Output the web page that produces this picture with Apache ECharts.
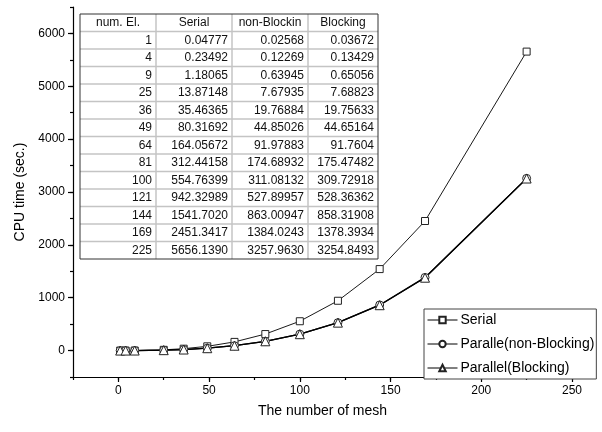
<!DOCTYPE html>
<html><head><meta charset="utf-8">
<script src="https://cdn.jsdelivr.net/npm/echarts@6/dist/echarts.min.js"></script>
<style>html,body{margin:0;padding:0;background:#fff}#c{width:602px;height:432px}</style>
</head><body><div id="c"></div>
<script>
// ---- data ----
const numEl = [1, 4, 9, 25, 36, 49, 64, 81, 100, 121, 144, 169, 225];
const serialText = ["0.04777","0.23492","1.18065","13.87148","35.46365","80.31692","164.05672","312.44158","554.76399","942.32989","1541.7020","2451.3417","5656.1390"];
const nonBlockingText = ["0.02568","0.12269","0.63945","7.67935","19.76884","44.85026","91.97883","174.68932","311.08132","527.89957","863.00947","1384.0243","3257.9630"];
const blockingText = ["0.03672","0.13429","0.65056","7.68823","19.75633","44.65164","91.7604","175.47482","309.72918","528.36362","858.31908","1378.3934","3254.8493"];
const tableHeaders = ["num. El.", "Serial", "non-Blockin", "Blocking"];
const seriesNames = ["Serial", "Paralle(non-Blocking)", "Parallel(Blocking)"];
const xTickValues = [0, 50, 100, 150, 200, 250];
const yTickValues = [0, 1000, 2000, 3000, 4000, 5000, 6000];

const FONT = '"Liberation Sans", Arial, sans-serif';
const serial = serialText.map(parseFloat);
const nonBlocking = nonBlockingText.map(parseFloat);
const blocking = blockingText.map(parseFloat);
const pairs = arr => numEl.map((x, i) => [x, arr[i]]);

// ---- table (graphic) ----
const T = {left: 80, top: 14, rowH: 17.5};
const colW = [76, 76, 76, 70];
const colX = [T.left];
colW.forEach((w, i) => colX.push(colX[i] + w));
const rows = [tableHeaders].concat(numEl.map((n, i) => [String(n), serialText[i], nonBlockingText[i], blockingText[i]]));
const nRows = rows.length, nCols = tableHeaders.length;
const tW = colX[nCols] - T.left, tH = T.rowH * nRows;
const g = [];
g.push({type: 'rect', shape: {x: T.left, y: T.top, width: tW, height: tH}, style: {fill: '#fff', stroke: 'none'}, z: 10});
for (let r = 1; r < nRows; r++) {
  const y = T.top + r * T.rowH;
  g.push({type: 'line', shape: {x1: T.left, y1: y, x2: T.left + tW, y2: y}, style: {stroke: '#c4c4c4', lineWidth: 1.5}, z: 11});
}
for (let c = 1; c < nCols; c++) {
  const x = colX[c];
  g.push({type: 'line', shape: {x1: x, y1: T.top, x2: x, y2: T.top + tH}, style: {stroke: '#c4c4c4', lineWidth: 1.5}, z: 11});
}
g.push({type: 'rect', shape: {x: T.left, y: T.top, width: tW, height: tH}, style: {fill: 'none', stroke: '#333', lineWidth: 1}, z: 12});
rows.forEach((row, r) => {
  row.forEach((txt, c) => {
    const header = r === 0;
    g.push({type: 'text', z: 13, style: {
      text: txt, font: '12px ' + FONT, fill: '#111',
      x: header ? (colX[c] + colX[c + 1]) / 2 : colX[c + 1] - 4,
      y: T.top + r * T.rowH + T.rowH / 2,
      align: header ? 'center' : 'right', verticalAlign: 'middle'
    }});
  });
});

const axisLineStyle = {color: '#000', width: 1.2};
const chart = echarts.init(document.getElementById('c'), null, {renderer: 'canvas'});
const mk = (name, sym, size, lw) => ({
  name, type: 'line', xAxisIndex: 0, yAxisIndex: 0,
  symbol: sym, symbolSize: size, showAllSymbol: true,
  lineStyle: {color: '#000', width: lw},
  itemStyle: {color: '#fff', borderColor: '#222', borderWidth: 1},
  emphasis: {disabled: true}, animation: false, z: 3
});
chart.setOption({
  animation: false,
  backgroundColor: '#fff',
  grid: {left: 73, right: 30, top: 7, bottom: 55},
  xAxis: [
    {type: 'value', min: -25, max: 250, interval: 25, position: 'bottom',
     axisLine: {onZero: false, lineStyle: axisLineStyle},
     axisTick: {length: 3, lineStyle: axisLineStyle},
     axisLabel: {show: false}, splitLine: {show: false}},
    {type: 'value', min: -25, max: 250, position: 'bottom',
     axisLine: {show: false, onZero: false},
     axisTick: {customValues: xTickValues, length: 5, lineStyle: axisLineStyle},
     axisLabel: {customValues: xTickValues, margin: 8, fontSize: 12, color: '#000', fontFamily: FONT, formatter: v => String(v)},
     splitLine: {show: false},
     name: 'The number of mesh', nameLocation: 'middle', nameGap: 27,
     nameTextStyle: {fontSize: 14, color: '#000', fontFamily: FONT}}
  ],
  yAxis: [
    {type: 'value', min: -500, max: 6500, interval: 500, position: 'left',
     axisLine: {onZero: false, lineStyle: axisLineStyle},
     axisTick: {length: 3, lineStyle: axisLineStyle},
     axisLabel: {show: false}, splitLine: {show: false}},
    {type: 'value', min: -500, max: 6500, position: 'left',
     axisLine: {show: false, onZero: false},
     axisTick: {customValues: yTickValues, length: 5, lineStyle: axisLineStyle},
     axisLabel: {customValues: yTickValues, margin: 8, fontSize: 12, color: '#000', fontFamily: FONT, formatter: v => String(v)},
     splitLine: {show: false},
     name: 'CPU time (sec.)', nameLocation: 'middle', nameGap: 46,
     nameTextStyle: {fontSize: 14, color: '#000', fontFamily: FONT}}
  ],
  legend: {
    orient: 'vertical', left: 424, top: 309, width: 173,
    data: seriesNames,
    borderColor: '#444', borderWidth: 1, borderRadius: 0,
    padding: [4, 2, 4, 3], itemGap: 10, itemWidth: 30, itemHeight: 8,
    lineStyle: {width: 1},
    textStyle: {fontSize: 14, color: '#000', fontFamily: FONT, padding: [0, 0, 0, -2]},
    backgroundColor: '#fff', selectedMode: false
  },
  series: [
    mk(seriesNames[0], 'rect', 7, 0.9),
    mk(seriesNames[1], 'circle', 8, 1.3),
    mk(seriesNames[2], 'triangle', 9, 1.3)
  ].map((s, i) => Object.assign(s, {data: pairs([serial, nonBlocking, blocking][i])})),
  graphic: g
});
</script></body></html>
